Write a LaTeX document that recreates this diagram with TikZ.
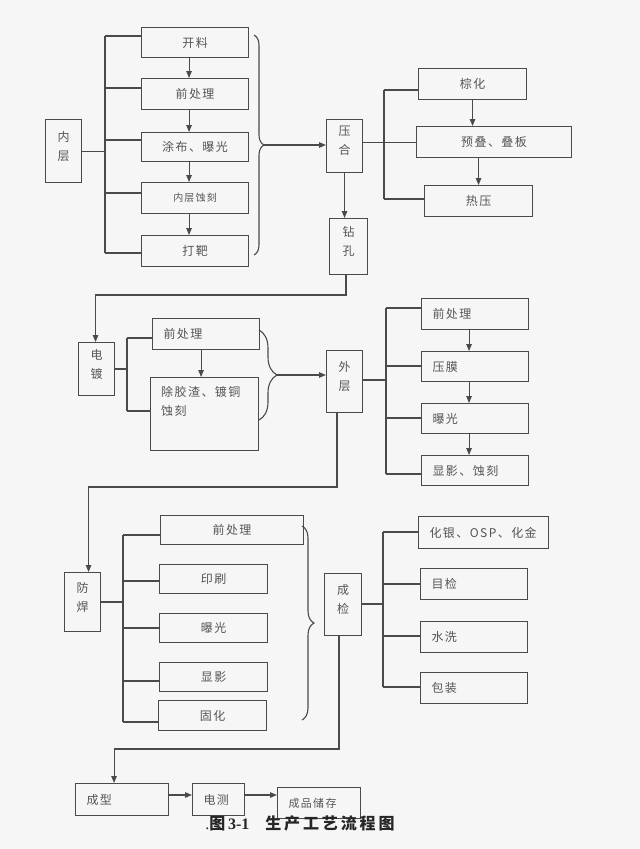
\documentclass[tikz,border=0pt]{standalone}
\usepackage{fontspec}
\usetikzlibrary{arrows.meta,decorations.pathreplacing,calc}
\newfontfamily\cjk{Noto Sans CJK SC}[LetterSpace=12]
\newfontfamily\cjkcap{Noto Sans CJK SC}[LetterSpace=18]
\newfontfamily\tms{Liberation Serif}
\definecolor{lc}{HTML}{4A4A4A}
\definecolor{tc}{HTML}{555555}
\definecolor{bgc}{HTML}{F6F6F6}
\begin{document}
\begin{tikzpicture}[x=1pt,y=-1pt,
  box/.style={draw=lc,line width=1.1pt,rectangle,inner sep=2pt,text=tc,anchor=north west,
    font=\cjk\fontsize{12}{19}\selectfont,align=center},
  vbox/.style={box,text depth=11pt},
  lbox/.style={box,align=left,inner xsep=11pt},
  ln/.style={draw=lc,line width=1.1pt},
  arr/.style={ln,-{Triangle[length=7pt,width=5.5pt]}},
  brc/.style={ln,decorate,decoration={brace,amplitude=#1}},
]
\fill[bgc] (0,0) rectangle (640,849);
\useasboundingbox (0,0) rectangle (640,849);

% ---------- inner layer ----------
\node[vbox,minimum width=36,minimum height=63] (nc) at (45,119) {内\\层};
\node[box,minimum width=107,minimum height=30] (kl) at (141,27) {开料};
\node[box,minimum width=107,minimum height=31] (q1) at (141,78) {前处理};
\node[box,minimum width=107,minimum height=29] (tb) at (141,132) {涂布、曝光};
\node[box,minimum width=107,minimum height=31,font=\cjk\fontsize{10}{12}\selectfont] (ns) at (141,182) {内层蚀刻};
\node[box,minimum width=107,minimum height=31] (db) at (141,235) {打靶};

\coordinate (bAt) at (105,36);
\coordinate (bAb) at (105,253);
\draw[ln] (bAt) -- (bAb);
\draw[ln] (nc.east) -- (nc.east -| bAt);
\draw[ln] (bAt) -- (kl.west |- bAt);
\draw[ln] (105,88) -- (q1.west |- 105,88);
\draw[ln] (105,140) -- (tb.west |- 105,140);
\draw[ln] (105,193) -- (ns.west |- 105,193);
\draw[ln] (bAb) -- (db.west |- bAb);
\draw[arr] ([xshift=-6pt]kl.south) -- ([xshift=-6pt]q1.north);
\draw[arr] ([xshift=-6pt]q1.south) -- ([xshift=-6pt]tb.north);
\draw[arr] ([xshift=-6pt]tb.south) -- ([xshift=-6pt]ns.north);
\draw[arr] ([xshift=-6pt]ns.south) -- ([xshift=-6pt]db.north);

\coordinate (b1t) at (254,35);
\coordinate (b1b) at (254,255);
\draw[brc=10] (b1t) -- (b1b);
\coordinate (b1m) at (264,145);

% ---------- lamination ----------
\node[vbox,minimum width=36,minimum height=53] (yh) at (326,119) {压\\合};
\node[vbox,minimum width=38,minimum height=56] (zk) at (329,218) {钻\\孔};
\node[box,minimum width=108,minimum height=31] (zh) at (418,68) {棕化};
\node[box,minimum width=155,minimum height=31] (yd) at (416,126) {预叠、叠板};
\node[box,minimum width=108,minimum height=31] (ry) at (424,185) {热压};
\draw[arr] (b1m) -- (b1m -| yh.west);
\draw[arr] (yh.south) -- (yh.south |- zk.north);
\coordinate (bBt) at (384,90);
\coordinate (bBb) at (384,199);
\draw[ln] (bBt) -- (bBb);
\draw[ln] (bBt) -- (zh.west |- bBt);
\draw[ln] (bBb) -- (ry.west |- bBb);
\draw[ln] (yh.east |- yd.west) -- (yd.west);
\draw[arr] (zh.south) -- (zh.south |- yd.north);
\draw[arr] (yd.south -| ry.north) -- (ry.north);

% ---------- electroplating ----------
\node[vbox,minimum width=36,minimum height=53] (dd) at (78,342) {电\\镀};
\node[lbox,minimum width=107,minimum height=31,text width=85] (q2) at (152,318) {前处理};
\node[box,minimum width=108,minimum height=73] (cj) at (150,377) {};
\node[text=tc,font=\cjk\fontsize{12}{19}\selectfont,align=left,anchor=north west,inner sep=0] (cjt) at ([xshift=11pt,yshift=-9pt]cj.north west) {除胶渣、镀铜\\蚀刻};
\coordinate (t1) at (346,295);
\draw[arr] (zk.south -| t1) -- (t1) -| ([xshift=-1pt]dd.north);
\coordinate (bCt) at (127,338);
\coordinate (bCb) at (127,411);
\draw[ln] (bCt) -- (bCb);
\draw[ln] (dd.east |- 127,369) -- (127,369);
\draw[ln] (bCt) -- (q2.west |- bCt);
\draw[ln] (bCb) -- (cj.west |- bCb);
\draw[arr] ([xshift=-5pt]q2.south) -- ([xshift=-5pt]q2.south |- cj.north);
\coordinate (b2t) at (259,330);
\coordinate (b2b) at (259,420);
\draw[brc=18] (b2t) -- (b2b);
\coordinate (b2m) at (277,375);

% ---------- outer layer ----------
\node[vbox,minimum width=36,minimum height=62] (wc) at (326,350) {外\\层};
\node[lbox,minimum width=107,minimum height=31,text width=85] (q3) at (421,298) {前处理};
\node[lbox,minimum width=107,minimum height=30,text width=85] (ym) at (421,351) {压膜};
\node[lbox,minimum width=107,minimum height=30,text width=85] (bg) at (421,403) {曝光};
\node[lbox,minimum width=107,minimum height=30,text width=85] (xy) at (421,455) {显影、蚀刻};
\draw[arr] (b2m) -- (b2m -| wc.west);
\coordinate (bDt) at (386,308);
\coordinate (bDb) at (386,474);
\draw[ln] (bDt) -- (bDb);
\draw[ln] (wc.east |- 386,380) -- (386,380);
\draw[ln] (bDt) -- (q3.west |- bDt);
\draw[ln] (386,366) -- (ym.west |- 386,366);
\draw[ln] (386,418) -- (bg.west |- 386,418);
\draw[ln] (bDb) -- (xy.west |- bDb);
\draw[arr] ([xshift=-6pt]q3.south) -- ([xshift=-6pt]ym.north);
\draw[arr] ([xshift=-6pt]ym.south) -- ([xshift=-6pt]bg.north);
\draw[arr] ([xshift=-6pt]bg.south) -- ([xshift=-6pt]xy.north);

% ---------- solder mask ----------
\node[vbox,minimum width=36,minimum height=59] (fh) at (64,572) {防\\焊};
\node[box,minimum width=143,minimum height=29] (q4) at (160,515) {前处理};
\node[box,minimum width=108,minimum height=29] (ys) at (159,564) {印刷};
\node[box,minimum width=108,minimum height=29] (bg2) at (159,613) {曝光};
\node[box,minimum width=108,minimum height=29] (xy2) at (159,662) {显影};
\node[box,minimum width=108,minimum height=30] (gh) at (158,700) {固化};
\coordinate (t2) at (337,487);
\draw[arr] (wc.south -| t2) -- (t2) -| ([xshift=6pt]fh.north);
\coordinate (bEt) at (123,535);
\coordinate (bEb) at (123,722);
\draw[ln] (bEt) -- (bEb);
\draw[ln] (fh.east |- 123,602) -- (123,602);
\draw[ln] (bEt) -- (q4.west |- bEt);
\draw[ln] (123,581) -- (ys.west |- 123,581);
\draw[ln] (123,628) -- (bg2.west |- 123,628);
\draw[ln] (123,681) -- (xy2.west |- 123,681);
\draw[ln] (bEb) -- (gh.west |- bEb);
\coordinate (b3t) at (302,526);
\coordinate (b3b) at (302,720);
\draw[brc=12] (b3t) -- (b3b);

% ---------- final inspection ----------
\node[vbox,minimum width=37,minimum height=62] (cjn) at (324,573) {成\\检};
\node[lbox,minimum width=130,minimum height=32,text width=108] (hy) at (418,516) {化银、OSP、化金};
\node[lbox,minimum width=107,minimum height=31,text width=85] (mj) at (420,568) {目检};
\node[lbox,minimum width=107,minimum height=31,text width=85] (sx) at (420,621) {水洗};
\node[lbox,minimum width=107,minimum height=31,text width=85] (bz) at (420,672) {包装};
\coordinate (bFt) at (383,532);
\coordinate (bFb) at (383,687);
\draw[ln] (bFt) -- (bFb);
\draw[ln] (cjn.east |- 383,604) -- (383,604);
\draw[ln] (bFt) -- (hy.west |- bFt);
\draw[ln] (383,584) -- (mj.west |- 383,584);
\draw[ln] (383,636) -- (sx.west |- 383,636);
\draw[ln] (bFb) -- (bz.west |- bFb);

% ---------- final steps ----------
\node[lbox,minimum width=93,minimum height=32,text width=71,inner xsep=11pt] (cx) at (75,783) {成型};
\node[lbox,minimum width=52,minimum height=32,text width=30,inner xsep=11pt] (dc) at (192,783) {电测};
\node[lbox,minimum width=83,minimum height=31,text width=61,inner xsep=11pt,font=\cjk\fontsize{11}{14}\selectfont] (cp) at (277,787) {成品储存};
\coordinate (t3) at (339,749);
\draw[arr] (cjn.south -| t3) -- (t3) -| ([xshift=-8pt]cx.north);
\draw[arr] (cx.east |- 0,795) -- (dc.west |- 0,795);
\draw[arr] (dc.east |- 0,795) -- (cp.west |- 0,795);

\node[text=black!85,inner sep=0] (cap) at (300,823)
  {\tms\fontsize{16}{18}\selectfont.\cjkcap\bfseries 图\,\tms\bfseries 3-1\hspace{16pt}\cjkcap\bfseries 生产工艺流程图};
\end{tikzpicture}
\end{document}
